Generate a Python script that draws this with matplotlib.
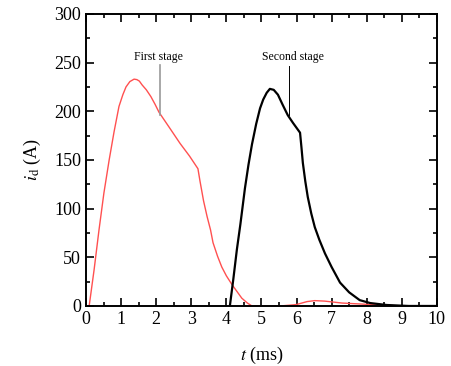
import numpy as np
import matplotlib
matplotlib.use('Agg')
import matplotlib.pyplot as plt
from matplotlib.ticker import MultipleLocator

plt.rcParams['font.family'] = ['Liberation Serif', 'DejaVu Serif']
plt.rcParams['mathtext.fontset'] = 'stix'

# first stage current (red)
t1 = [0.0, 0.09, 0.23, 0.37, 0.51, 0.66, 0.80, 0.94, 1.05, 1.14, 1.25, 1.37, 1.45,
      1.52, 1.60, 1.72, 1.85, 1.97, 2.08, 2.40, 2.68, 2.95, 3.19, 3.25, 3.35, 3.45,
      3.55, 3.62, 3.75, 3.87, 4.0, 4.16, 4.30, 4.44, 4.60, 4.73, 5.53, 5.8, 6.0,
      6.15, 6.3, 6.52, 6.8, 7.3, 8.1, 9.0, 10.0]
i1 = [0, 0, 37, 78, 116, 150, 179, 205, 217, 225, 230.5, 233, 232.5,
      231, 227, 222, 215, 207, 199, 182, 167, 154, 141, 128, 108, 92,
      78, 65, 51, 40, 31, 22, 15, 8, 3, 0, 0, 0.8, 1.5,
      3, 4.5, 5.5, 5, 3, 1.5, 0, 0]

# second stage current (black)
t2 = [4.10, 4.20, 4.30, 4.40, 4.53, 4.63, 4.73, 4.85, 4.96, 5.05, 5.15, 5.24, 5.35,
      5.47, 5.60, 5.75, 5.90, 6.00, 6.10, 6.14, 6.18, 6.25, 6.32, 6.42, 6.52, 6.65,
      6.81, 7.0, 7.24, 7.5, 7.8, 8.1, 8.57, 9.2, 10.0]
i2 = [0, 28, 58, 84, 121, 145, 166, 187, 203, 212, 219, 223, 222,
      217, 207, 196, 188, 183, 178, 163, 147, 128, 112, 95, 81, 68,
      54, 40, 24, 14, 6, 3, 1, 0, 0]

fig = plt.figure(figsize=(4.51, 3.66), dpi=100)
ax = fig.add_axes([0.1907, 0.164, 0.778, 0.798])

ax.plot(t1, i1, color='#ff5050', lw=1.0)
ax.plot(t2, i2, color='black', lw=1.6)

ax.set_xlim(0, 10)
ax.set_ylim(0, 300)
ax.xaxis.set_major_locator(MultipleLocator(1))
ax.xaxis.set_minor_locator(MultipleLocator(0.5))
ax.yaxis.set_major_locator(MultipleLocator(50))
ax.yaxis.set_minor_locator(MultipleLocator(25))
ax.tick_params(which='both', direction='in', top=True, right=True, width=1.2,
               labelsize=13)
ax.tick_params(which='major', length=6)
ax.tick_params(which='minor', length=3)
for s in ax.spines.values():
    s.set_linewidth(1.4)

ax.set_xlabel(r'$t$ (ms)', fontsize=13, labelpad=12)
ax.set_ylabel(r'$i_{\mathrm{d}}$ (A)', fontsize=13, labelpad=8)

ax.plot([2.11, 2.11], [248, 196], color='#999999', lw=1.2)
ax.text(2.07, 256, 'First stage', ha='center', va='center', fontsize=8.5)
ax.plot([5.78, 5.78], [247, 196], color='black', lw=0.7)
ax.text(5.9, 256, 'Second stage', ha='center', va='center', fontsize=8.5)

fig.savefig('out.png', dpi=100)
